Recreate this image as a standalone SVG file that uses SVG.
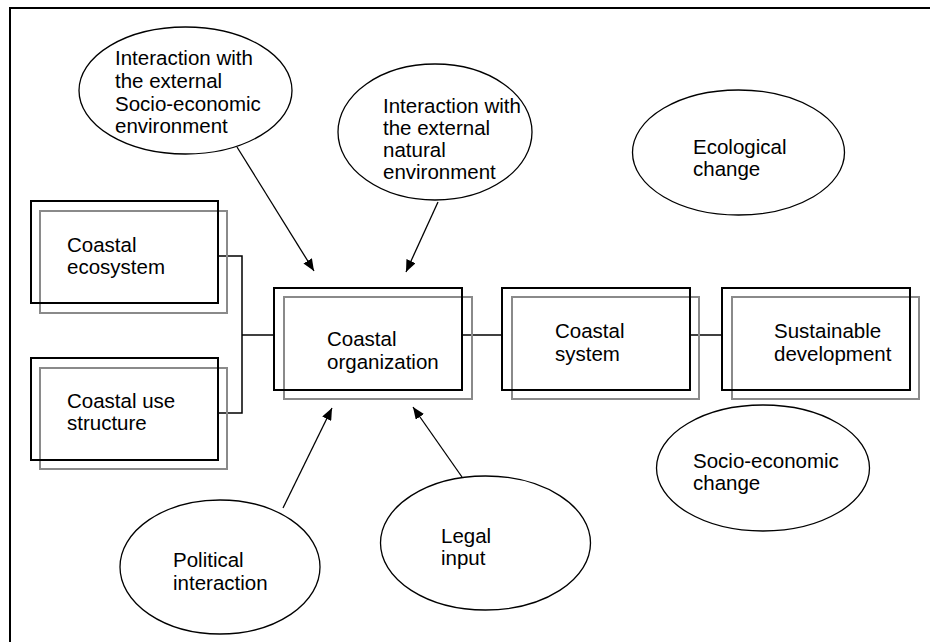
<svg xmlns="http://www.w3.org/2000/svg" width="930" height="642" viewBox="0 0 930 642">
  <style>
    .frame { fill: none; stroke: #000; stroke-width: 2; }
    .shadow { fill: none; stroke: #8a8a8a; stroke-width: 2; }
    .box { fill: none; stroke: #000; stroke-width: 2; }
    .oval { fill: #fff; stroke: #000; stroke-width: 1.3; }
    .link { fill: none; stroke: #000; stroke-width: 1.5; }
    .arrow { fill: none; stroke: #000; stroke-width: 1.3; marker-end: url(#head); }
    text { font-family: "Liberation Sans", Arial, sans-serif; font-size: 20.5px; fill: #000; }
  </style>
  <defs>
    <marker id="head" viewBox="0 0 12 10" refX="12" refY="5" markerWidth="12" markerHeight="10" markerUnits="userSpaceOnUse" orient="auto">
      <path d="M0,0 L12,5 L0,10 Z" fill="#000"/>
    </marker>
  </defs>

  <rect width="930" height="642" fill="#fff"/>
  <!-- page frame: only the top and left edges fall inside the view -->
  <rect class="frame" x="10" y="8" width="940" height="660"/>

  <g id="connectors">
    <path class="link" d="M218,256 H242 V413 H218"/>
    <path class="link" d="M242,335 H274"/>
    <path class="link" d="M462,335 H502"/>
    <path class="link" d="M690,335 H722"/>
    <line class="arrow" x1="237" y1="147" x2="314" y2="271"/>
    <line class="arrow" x1="438" y1="202" x2="406" y2="272"/>
    <line class="arrow" x1="283" y1="508" x2="332" y2="408"/>
    <line class="arrow" x1="462" y1="477" x2="413" y2="407"/>
  </g>

  <g id="socio-economic-environment">
    <ellipse class="oval" cx="185.5" cy="90.5" rx="106.5" ry="63.5"/>
    <text x="115" y="65">Interaction with</text>
    <text x="115" y="88">the external</text>
    <text x="115" y="110.5">Socio-economic</text>
    <text x="115" y="132.5">environment</text>
  </g>

  <g id="natural-environment">
    <ellipse class="oval" cx="435" cy="132" rx="97" ry="68"/>
    <text x="383" y="113">Interaction with</text>
    <text x="383" y="135">the external</text>
    <text x="383" y="157">natural</text>
    <text x="383" y="179">environment</text>
  </g>

  <g id="ecological-change">
    <ellipse class="oval" cx="738.5" cy="152.5" rx="106" ry="62.5"/>
    <text x="693" y="154">Ecological</text>
    <text x="693" y="176">change</text>
  </g>

  <g id="coastal-ecosystem">
    <rect class="shadow" x="40" y="211" width="187" height="102"/>
    <rect class="box" x="31" y="201" width="187" height="102"/>
    <text x="67" y="251.5">Coastal</text>
    <text x="67" y="273.5">ecosystem</text>
  </g>

  <g id="coastal-use-structure">
    <rect class="shadow" x="40" y="368" width="187" height="101"/>
    <rect class="box" x="31" y="358" width="187" height="102"/>
    <text x="67" y="408">Coastal use</text>
    <text x="67" y="430">structure</text>
  </g>

  <g id="coastal-organization">
    <rect class="shadow" x="284" y="297" width="188" height="102"/>
    <rect class="box" x="274" y="288" width="188" height="102"/>
    <text x="327" y="346">Coastal</text>
    <text x="327" y="369">organization</text>
  </g>

  <g id="coastal-system">
    <rect class="shadow" x="512" y="297" width="187" height="102"/>
    <rect class="box" x="502" y="288" width="188" height="102"/>
    <text x="555" y="338">Coastal</text>
    <text x="555" y="361">system</text>
  </g>

  <g id="sustainable-development">
    <rect class="shadow" x="732" y="297" width="187" height="102"/>
    <rect class="box" x="722" y="288" width="188" height="102"/>
    <text x="774" y="338">Sustainable</text>
    <text x="774" y="361">development</text>
  </g>

  <g id="socio-economic-change">
    <ellipse class="oval" cx="763" cy="468" rx="106.5" ry="63"/>
    <text x="693" y="468">Socio-economic</text>
    <text x="693" y="490">change</text>
  </g>

  <g id="political-interaction">
    <ellipse class="oval" cx="220" cy="567" rx="100" ry="67"/>
    <text x="173" y="567">Political</text>
    <text x="173" y="590">interaction</text>
  </g>

  <g id="legal-input">
    <ellipse class="oval" cx="485.5" cy="543" rx="105" ry="67"/>
    <text x="441" y="543">Legal</text>
    <text x="441" y="565">input</text>
  </g>
</svg>
